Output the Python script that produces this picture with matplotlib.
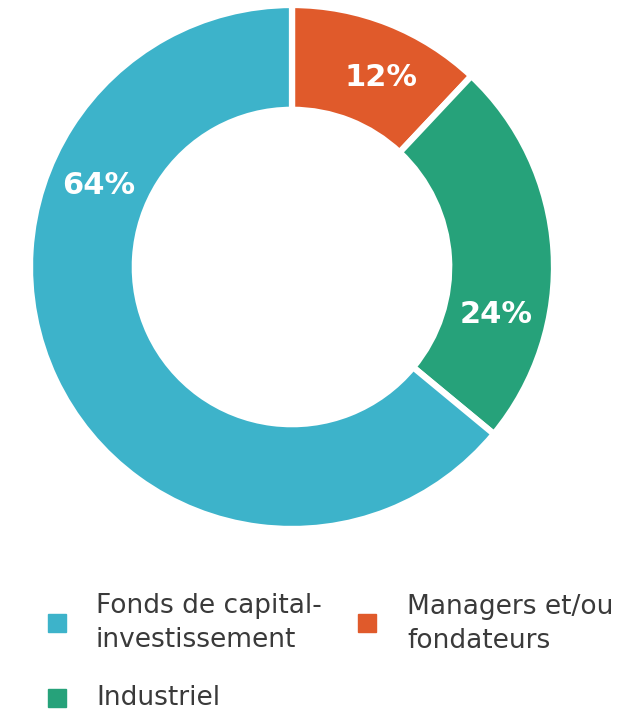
import matplotlib
matplotlib.use("Agg")
import matplotlib.pyplot as plt
from matplotlib.patches import Rectangle
import numpy as np

categories = ["Managers et/ou\nfondateurs", "Industriel", "Fonds de capital-\ninvestissement"]
values = [12, 24, 64]
colors = ["#E05A2B", "#26A27A", "#3DB3CA"]
label_angles = [65, -13, 157]   # label placement angles (deg)

W, H = 641, 714
fig = plt.figure(figsize=(W / 100, H / 100), dpi=100)
cx, cy, R = 292, 267, 262
ax = fig.add_axes([(cx - R) / W, (H - cy - R) / H, 2 * R / W, 2 * R / H])
ax.pie(values, colors=colors, startangle=90, counterclock=False, radius=1.0,
       wedgeprops=dict(width=0.40, edgecolor="white", linewidth=4.5))
ax.set_xlim(-1, 1)
ax.set_ylim(-1, 1)
ax.set_aspect("equal")
ax.axis("off")

for v, a in zip(values, label_angles):
    t = np.deg2rad(a)
    ax.text(0.80 * np.cos(t), 0.80 * np.sin(t), f"{v}%", color="white",
            fontsize=22, fontweight="bold", ha="center", va="center",
            family="DejaVu Sans")

# legend (manual)
leg_items = [
    (2, 48, 623, 96, 623),
    (0, 358, 623, 407, 624),
    (1, 48, 698, 96, 698),
]
for idx, sx, sy, tx, ty in leg_items:
    fig.patches.append(Rectangle((sx / W, 1 - (sy + 9) / H), 18 / W, 18 / H,
                                 transform=fig.transFigure, color=colors[idx]))
    fig.text(tx / W, 1 - ty / H, categories[idx], fontsize=19, color="#3a3a3a",
             ha="left", va="center", linespacing=1.4, family="DejaVu Sans")

fig.savefig("out.png", dpi=100)
